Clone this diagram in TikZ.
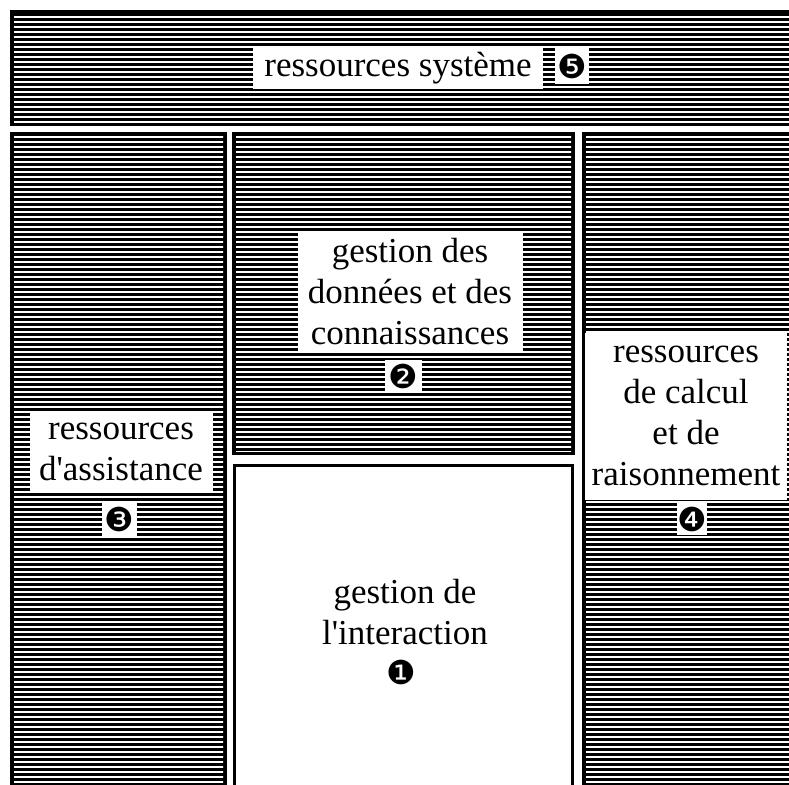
\documentclass[tikz,border=0pt]{standalone}
\usepackage{fontspec}
\setmainfont{Liberation Serif}
\newfontfamily\numfont{DejaVu Sans}
\usepackage{tikz}

% black block with white horizontal rules inside
\newcommand{\hatchbox}[4]{%
  \fill (#1,#2) rectangle (#3,#4);
  \begin{scope}
    \clip (#1+4,#2+4) rectangle (#3-4,#4-4);
    \foreach \yy in {2,7,...,797}
      \draw[white,line width=1.5pt] (#1,\yy) -- (#3,\yy);
  \end{scope}}

\begin{document}
\begin{tikzpicture}[x=1pt,y=-1pt,
    label/.style={fill=white,inner sep=0pt,align=center,
      font=\fontsize{35}{41}\selectfont},
    num/.style={fill=white,inner sep=0pt,font=\numfont\fontsize{33}{33}\selectfont}]
    \clip (0,0) rectangle (789,784);

    % the five blocks
    \hatchbox{10}{10}{800}{126}
    \hatchbox{10}{132}{227}{800}
    \hatchbox{232}{132}{575}{455}
    \hatchbox{582}{132}{800}{800}
    \draw[line width=3pt] (234,465) rectangle (572,800);

    % texts
    \node[label,minimum width=290,minimum height=41] (systeme) at (398,68) {ressources système};
    \node[num,minimum width=34,minimum height=36] (n5) at (572,66) {❺};

    \node[label,minimum width=225,minimum height=121] (donnees) at (410,292)
        {gestion des\\données et des\\connaissances};
    \node[num,minimum width=37,minimum height=33] (n2) at (403,376) {❷};

    \node[label,minimum width=183,minimum height=81] (assistance) at (121,452)
        {ressources\\d\textquotesingle assistance};
    \node[num,minimum width=35,minimum height=35] (n3) at (119,519) {❸};

    \node[label,minimum width=202,minimum height=167] (calcul) at (686,416)
        {ressources\\de calcul\\et de\\raisonnement};
    \node[num,minimum width=29,minimum height=32] (n4) at (692,519) {❹};

    \node[label] (interaction) at (405,612) {gestion de\\l\textquotesingle interaction};
    \node[num] (n1) at (401,672) {❶};
\end{tikzpicture}
\end{document}
